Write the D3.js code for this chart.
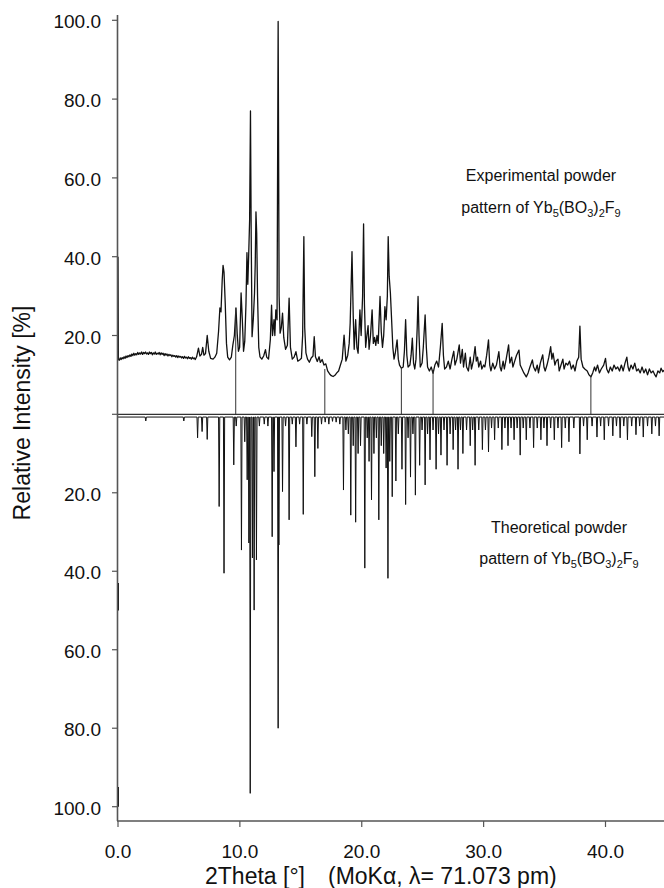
<!DOCTYPE html>
<html>
<head>
<meta charset="utf-8">
<title>Powder pattern of Yb5(BO3)2F9</title>
<script src="https://d3js.org/d3.v7.min.js"></script>
<style>
  body { margin: 0; background: #fff; }
  text { font-family: 'Liberation Sans', Arial, sans-serif; fill: #111; }
</style>
</head>
<body>
<div id="chart"></div>
<script>

  // experimental pattern, [2theta (deg), relative intensity (%)]
  var expPattern = [
    [0, 40], [0.03, 14.0], [0.1, 13.7], [0.18, 14.3], [0.26, 13.9], [0.34, 14.4], [0.42, 14.1], [0.5, 14.6], [0.58, 14.2],
    [0.66, 14.8], [0.74, 14.4], [0.82, 14.9], [0.9, 14.6], [0.98, 15.1], [1.06, 14.7], [1.14, 15.3], [1.22, 14.9], [1.3, 15.5],
    [1.38, 15.0], [1.46, 15.4], [1.54, 15.1], [1.62, 15.7], [1.7, 15.2], [1.78, 15.6], [1.86, 15.3], [1.94, 15.8], [2.02, 15.2],
    [2.1, 15.7], [2.18, 15.4], [2.26, 15.8], [2.34, 15.3], [2.42, 15.6], [2.5, 15.2], [2.58, 15.8], [2.66, 15.4], [2.74, 15.7],
    [2.82, 15.1], [2.9, 15.6], [2.98, 15.3], [3.06, 15.8], [3.14, 15.2], [3.22, 15.5], [3.3, 15.3], [3.38, 15.7], [3.46, 15.1],
    [3.54, 15.6], [3.62, 15.2], [3.7, 15.5], [3.78, 14.9], [3.86, 15.4], [3.94, 15.0], [4.02, 15.3], [4.1, 14.8], [4.18, 15.2],
    [4.26, 14.9], [4.34, 15.1], [4.42, 14.6], [4.5, 15.0], [4.58, 14.7], [4.66, 14.9], [4.74, 14.5], [4.82, 14.9], [4.9, 14.4],
    [4.98, 14.8], [5.06, 14.5], [5.14, 14.7], [5.22, 14.3], [5.3, 14.6], [5.38, 14.2], [5.46, 14.7], [5.54, 14.3], [5.62, 14.5],
    [5.7, 14.1], [5.78, 14.6], [5.86, 14.2], [5.94, 14.4], [6.02, 14.0], [6.1, 14.5], [6.18, 14.1], [6.26, 14.3], [6.34, 13.9],
    [6.45, 14.6], [6.6, 16.8], [6.72, 14.8], [6.85, 15.2], [6.95, 17.0], [7.05, 15.0], [7.18, 15.4], [7.32, 20.0],
    [7.45, 16.0], [7.6, 14.2], [7.8, 14.0], [7.95, 14.5], [8.1, 15.5], [8.25, 21.0], [8.36, 27.0], [8.45, 26.0], [8.55, 34.0],
    [8.62, 37.8], [8.7, 36.0], [8.8, 28.0], [8.9, 18.0], [9.0, 14.5], [9.15, 13.8], [9.3, 14.5], [9.42, 17.5], [9.55, 20.0],
    [9.68, 27.0], [9.78, 20.5], [9.88, 16.0], [9.98, 17.0], [10.1, 30.8], [10.2, 24.0], [10.3, 16.0], [10.4, 18.5], [10.5, 28.0],
    [10.58, 41.0], [10.65, 33.0], [10.72, 40.0], [10.8, 49.3], [10.87, 77.0], [10.93, 45.0], [11.0, 19.7], [11.1, 24.0],
    [11.2, 30.7], [11.26, 38.0], [11.32, 51.4], [11.38, 46.0], [11.45, 30.0], [11.55, 17.0], [11.65, 14.6], [11.8, 14.0],
    [11.95, 14.8], [12.1, 16.4], [12.2, 14.5], [12.35, 14.0], [12.5, 19.0], [12.6, 27.7], [12.68, 20.0], [12.8, 24.0],
    [12.87, 20.0], [12.95, 26.5], [13.05, 24.0], [13.14, 99.7], [13.22, 30.0], [13.3, 20.6], [13.4, 22.0], [13.5, 25.7],
    [13.6, 19.5], [13.75, 16.5], [13.9, 17.5], [14.04, 29.5], [14.15, 17.0], [14.3, 14.0], [14.45, 14.5], [14.6, 15.9],
    [14.75, 13.5], [14.9, 13.8], [15.05, 14.2], [15.15, 20.0], [15.25, 45.1], [15.32, 22.0], [15.42, 15.6], [15.55, 14.0],
    [15.7, 13.2], [15.85, 14.3], [16.0, 14.8], [16.1, 19.7], [16.2, 14.6], [16.35, 13.4], [16.5, 14.6], [16.6, 13.2],
    [16.75, 13.9], [16.9, 12.5], [17.05, 12.8], [17.2, 11.0], [17.35, 10.3], [17.5, 9.8], [17.65, 9.6], [17.8, 9.9],
    [17.95, 10.5], [18.1, 11.0], [18.25, 12.5], [18.4, 14.0], [18.55, 20.1], [18.7, 13.5], [18.85, 15.0], [18.97, 18.0],
    [19.05, 23.1], [19.2, 41.3], [19.3, 25.0], [19.38, 16.5], [19.5, 24.0], [19.6, 17.0], [19.7, 15.5], [19.85, 26.5],
    [19.95, 20.0], [20.07, 30.0], [20.15, 48.3], [20.22, 28.0], [20.32, 17.0], [20.4, 19.5], [20.52, 22.5], [20.6, 16.5],
    [20.72, 20.0], [20.85, 26.5], [20.95, 18.0], [21.05, 19.5], [21.15, 17.5], [21.25, 20.0], [21.35, 18.0], [21.5, 29.9],
    [21.6, 21.0], [21.7, 17.0], [21.8, 20.0], [21.9, 27.3], [22.0, 24.0], [22.1, 30.0], [22.17, 45.1], [22.25, 35.0],
    [22.35, 30.8], [22.45, 24.0], [22.55, 17.0], [22.65, 14.0], [22.75, 15.5], [22.9, 18.9], [23.0, 14.0], [23.1, 12.5],
    [23.25, 11.7], [23.4, 12.0], [23.5, 16.0], [23.6, 24.0], [23.7, 15.0], [23.8, 12.0], [23.95, 12.5], [24.05, 15.0],
    [24.15, 19.3], [24.25, 13.0], [24.35, 11.5], [24.45, 14.0], [24.55, 22.0], [24.62, 29.9], [24.7, 20.0], [24.8, 12.0],
    [24.95, 13.0], [25.05, 17.0], [25.2, 25.2], [25.3, 17.0], [25.4, 12.0], [25.55, 11.0], [25.7, 12.0], [25.85, 10.4],
    [26.0, 12.5], [26.15, 13.5], [26.3, 12.0], [26.45, 17.0], [26.6, 23.1], [26.7, 15.0], [26.8, 11.5], [26.95, 12.0],
    [27.1, 13.5], [27.25, 11.5], [27.4, 14.0], [27.55, 16.0], [27.65, 12.5], [27.8, 14.0], [28.0, 17.6], [28.1, 13.0],
    [28.25, 16.5], [28.35, 12.0], [28.5, 15.5], [28.6, 12.0], [28.75, 11.0], [28.9, 14.5], [29.0, 11.5], [29.15, 13.5],
    [29.3, 17.2], [29.4, 13.5], [29.5, 14.5], [29.6, 12.0], [29.75, 13.5], [29.85, 11.5], [30.0, 12.5], [30.1, 12.0],
    [30.25, 15.0], [30.4, 18.9], [30.5, 12.5], [30.6, 11.0], [30.75, 13.0], [30.9, 11.5], [31.05, 12.5], [31.25, 15.9],
    [31.35, 12.0], [31.45, 11.0], [31.6, 13.5], [31.7, 11.5], [31.85, 14.0], [32.05, 17.6], [32.15, 13.0], [32.3, 14.5],
    [32.4, 12.0], [32.55, 13.5], [32.7, 15.0], [32.9, 16.3], [33.0, 12.5], [33.15, 11.5], [33.3, 10.5], [33.5, 9.5],
    [33.65, 10.5], [33.8, 12.0], [34.0, 13.8], [34.1, 12.0], [34.25, 11.0], [34.4, 12.5], [34.5, 10.5], [34.65, 13.0],
    [34.85, 15.1], [34.95, 12.0], [35.05, 11.0], [35.2, 12.5], [35.35, 14.5], [35.5, 17.2], [35.6, 14.0], [35.7, 15.5],
    [35.85, 12.5], [35.95, 13.5], [36.1, 14.0], [36.2, 11.0], [36.35, 12.5], [36.5, 14.0], [36.6, 11.5], [36.75, 13.0],
    [36.9, 12.5], [37.05, 13.5], [37.2, 11.5], [37.35, 12.5], [37.5, 11.0], [37.65, 13.5], [37.8, 14.5], [37.9, 22.4],
    [38.0, 14.0], [38.15, 12.0], [38.3, 11.5], [38.5, 11.0], [38.65, 10.0], [38.8, 9.5], [38.95, 10.5], [39.1, 12.0],
    [39.2, 11.0], [39.35, 12.5], [39.5, 10.5], [39.65, 11.5], [39.85, 12.5], [40.0, 14.2], [40.1, 11.5], [40.25, 10.5],
    [40.4, 12.0], [40.55, 11.0], [40.7, 12.5], [40.85, 11.5], [41.0, 12.0], [41.15, 11.0], [41.3, 12.5], [41.45, 11.0],
    [41.6, 13.0], [41.75, 14.5], [41.85, 12.0], [41.95, 11.0], [42.1, 12.5], [42.25, 11.5], [42.4, 13.0], [42.55, 11.0],
    [42.7, 11.5], [42.85, 10.5], [43.0, 12.0], [43.15, 10.5], [43.3, 11.5], [43.45, 10.0], [43.6, 11.5], [43.75, 10.5],
    [43.9, 11.0], [44.05, 10.0], [44.15, 9.5], [44.3, 11.0], [44.45, 10.5], [44.56, 11.7], [44.7, 10.8], [44.8, 11.2]
  ];

  // calculated reflections, [2theta (deg), relative intensity (%)]
  var theoPeaks = [
    [2.28, 1.7], [5.4, 1.7], [6.53, 6.0], [6.9, 4.4], [7.32, 6.4], [8.3, 23.5], [8.7, 40.5], [9.5, 12.9], [9.7, 3.0],
    [10.13, 34.6], [10.4, 7.0], [10.6, 16.7], [10.74, 32.8], [10.85, 96.6], [11.03, 36.6], [11.17, 49.9], [11.36, 37.1],
    [11.6, 3.0], [12.0, 2.5], [12.3, 3.0], [12.65, 31.2], [12.8, 14.6], [13.14, 80.0], [13.2, 33.3], [13.5, 19.7],
    [13.75, 3.0], [14.04, 26.9], [14.3, 2.5], [14.6, 8.3], [14.9, 2.5], [15.2, 25.5], [15.5, 2.5], [15.9, 5.7], [16.15, 15.9],
    [16.4, 8.7], [16.7, 2.5], [17.0, 2.0], [17.3, 2.5], [17.6, 1.8], [17.9, 2.0], [18.2, 2.5], [18.5, 19.3], [18.7, 4.0],
    [18.9, 5.0], [19.1, 25.7], [19.3, 8.0], [19.5, 27.5], [19.7, 10.0], [19.9, 8.0], [20.25, 39.2], [20.45, 6.0], [20.6, 12.0],
    [20.8, 21.8], [21.0, 10.0], [21.2, 6.0], [21.4, 26.9], [21.6, 8.0], [21.8, 10.0], [22.0, 13.7], [22.15, 41.8], [22.3, 12.0],
    [22.5, 21.0], [22.8, 17.0], [23.0, 5.0], [23.3, 14.0], [23.6, 23.0], [23.8, 6.0], [24.0, 16.0], [24.2, 5.0], [24.4, 20.6],
    [24.75, 13.0], [24.95, 4.0], [25.2, 18.0], [25.4, 5.0], [25.6, 11.6], [25.85, 4.0], [26.1, 14.0], [26.3, 5.0],
    [26.5, 10.4], [26.75, 4.0], [27.0, 13.0], [27.25, 5.0], [27.5, 9.0], [27.7, 4.0], [27.9, 14.0], [28.1, 4.0], [28.3, 10.0],
    [28.6, 4.0], [28.9, 8.0], [29.1, 4.0], [29.3, 13.0], [29.6, 4.0], [29.9, 9.0], [30.15, 4.0], [30.4, 9.6], [30.65, 3.5],
    [30.9, 6.5], [31.2, 3.5], [31.5, 9.0], [31.75, 3.5], [32.0, 8.0], [32.25, 3.5], [32.5, 6.5], [32.75, 3.5], [33.0, 10.4],
    [33.25, 3.5], [33.5, 6.5], [33.8, 3.5], [34.1, 8.5], [34.4, 3.5], [34.7, 6.5], [34.95, 3.5], [35.2, 8.0], [35.5, 3.5],
    [35.8, 6.5], [36.1, 3.5], [36.4, 8.5], [36.7, 3.5], [37.0, 7.0], [37.4, 3.5], [37.9, 10.1], [38.2, 3.0], [38.5, 6.5],
    [38.9, 3.0], [39.3, 5.8], [39.6, 3.0], [39.9, 6.5], [40.25, 3.0], [40.6, 5.5], [40.9, 3.0], [41.2, 6.0], [41.5, 3.0],
    [41.8, 6.5], [42.15, 3.0], [42.5, 5.2], [42.8, 3.0], [43.1, 5.8], [43.45, 3.0], [43.8, 5.0], [44.1, 3.0], [44.4, 5.5]
  ];
  var theoBase = 0.7;
  // short dark pieces of the calculated trace lying on the axis at 2theta = 0
  var theoEdge = [[43, 50], [95, 100]];

  // thin marker lines in the upper panel
  var markerPos = [9.66, 16.97, 23.25, 25.85, 38.8];
  var markerTop = [27.0, 11.5, 11.7, 11.0, 9.8];

  var xTicks = [0, 10, 20, 30, 40];
  var yTicks = [20, 40, 60, 80, 100];

  var W = 664, H = 888;

  var svg = d3.select("#chart")
    .append("svg")
    .attr("width", W)
    .attr("height", H);

  // scales
  var x = d3.scaleLinear().domain([0, 44.8]).range([118, 664]);
  var yUp = d3.scaleLinear().domain([0, 100]).range([414.3, 20.3]);
  var yDown = d3.scaleLinear().domain([0, 100]).range([414.3, 806.7]);
  var axisY = 821;

  var fmt = d3.format(".1f");

  // experimental curve
  var lineUp = d3.line()
    .x(function (d) { return x(d[0]); })
    .y(function (d) { return yUp(d[1]); });

  svg.append("path")
    .datum(expPattern)
    .attr("d", lineUp)
    .attr("fill", "none")
    .attr("stroke", "#111")
    .attr("stroke-width", 1.3)
    .attr("stroke-linejoin", "round");

  // marker lines
  svg.selectAll(".marker")
    .data(markerPos)
    .enter().append("line")
    .attr("class", "marker")
    .attr("x1", function (d) { return x(d); })
    .attr("x2", function (d) { return x(d); })
    .attr("y1", yUp(0))
    .attr("y2", function (d, i) { return yUp(markerTop[i]); })
    .attr("stroke", "#333")
    .attr("stroke-width", 1);

  // theoretical pattern drawn downwards, each reflection as a narrow spike
  var theoPts = [[0, theoBase]];
  theoPeaks.forEach(function (p) {
    theoPts.push([p[0] - 0.05, theoBase]);
    theoPts.push([p[0], p[1]]);
    theoPts.push([p[0] + 0.05, theoBase]);
  });
  theoPts.push([44.8, theoBase]);

  var lineDown = d3.line()
    .x(function (d) { return x(d[0]); })
    .y(function (d) { return yDown(d[1]); });

  svg.append("path")
    .datum(theoPts)
    .attr("d", lineDown)
    .attr("fill", "none")
    .attr("stroke", "#111")
    .attr("stroke-width", 1);

  svg.selectAll(".edge")
    .data(theoEdge)
    .enter().append("line")
    .attr("x1", x(0) + 0.3).attr("x2", x(0) + 0.3)
    .attr("y1", function (d) { return yDown(d[0]); })
    .attr("y2", function (d) { return yDown(d[1]); })
    .attr("stroke", "#111").attr("stroke-width", 1.4);

  // zero line between the two panels
  svg.append("line")
    .attr("x1", x(0)).attr("x2", W)
    .attr("y1", yUp(0)).attr("y2", yUp(0))
    .attr("stroke", "#333").attr("stroke-width", 1.2);

  // y axis (shared), ticks for both panels
  var yAxisG = svg.append("g");
  yAxisG.append("line")
    .attr("x1", x(0) - 0.5).attr("x2", x(0) - 0.5)
    .attr("y1", 15).attr("y2", axisY)
    .attr("stroke", "#555").attr("stroke-width", 1.6);

  var upTicks = [0].concat(yTicks);
  yAxisG.selectAll(".tu")
    .data(upTicks)
    .enter().append("line")
    .attr("x1", x(0) - 6).attr("x2", x(0))
    .attr("y1", function (d) { return yUp(d); })
    .attr("y2", function (d) { return yUp(d); })
    .attr("stroke", "#555").attr("stroke-width", 1.2);
  yAxisG.selectAll(".td")
    .data(yTicks)
    .enter().append("line")
    .attr("x1", x(0) - 6).attr("x2", x(0))
    .attr("y1", function (d) { return yDown(d); })
    .attr("y2", function (d) { return yDown(d); })
    .attr("stroke", "#555").attr("stroke-width", 1.2);

  yAxisG.selectAll(".lu")
    .data(yTicks)
    .enter().append("text")
    .attr("x", 101)
    .attr("y", function (d) { return yUp(d) + 8; })
    .attr("text-anchor", "end")
    .style("font-size", "19px")
    .text(fmt);
  yAxisG.selectAll(".ld")
    .data(yTicks)
    .enter().append("text")
    .attr("x", 101)
    .attr("y", function (d) { return yDown(d) + 8; })
    .attr("text-anchor", "end")
    .style("font-size", "19px")
    .text(fmt);

  // x axis
  var xAxisG = svg.append("g");
  xAxisG.append("line")
    .attr("x1", x(0) - 1).attr("x2", W)
    .attr("y1", axisY).attr("y2", axisY)
    .attr("stroke", "#555").attr("stroke-width", 1.6);
  xAxisG.selectAll(".tx")
    .data(xTicks)
    .enter().append("line")
    .attr("x1", function (d) { return x(d); })
    .attr("x2", function (d) { return x(d); })
    .attr("y1", axisY).attr("y2", axisY + 6)
    .attr("stroke", "#555").attr("stroke-width", 1.2);
  xAxisG.selectAll(".lx")
    .data(xTicks)
    .enter().append("text")
    .attr("x", function (d) { return x(d); })
    .attr("y", axisY + 37)
    .attr("text-anchor", "middle")
    .style("font-size", "19px")
    .text(fmt);

  // axis titles
  svg.append("text")
    .attr("x", 205)
    .attr("y", 884)
    .style("font-size", "23px")
    .text("2Theta [°]");
  svg.append("text")
    .attr("x", 328)
    .attr("y", 884)
    .style("font-size", "23px")
    .text("(MoK\u03B1, \u03BB= 71.073 pm)");

  svg.append("text")
    .attr("transform", "translate(30,413) rotate(-90)")
    .attr("text-anchor", "middle")
    .style("font-size", "23px")
    .text("Relative Intensity [%]");

  // panel annotations
  function formula(g, cx, y) {
    var t = g.append("text")
      .attr("x", cx).attr("y", y)
      .attr("text-anchor", "middle")
      .style("font-size", "16px");
    t.append("tspan").text("pattern of Yb");
    t.append("tspan").attr("dy", 4).style("font-size", "11px").text("5");
    t.append("tspan").attr("dy", -4).text("(BO");
    t.append("tspan").attr("dy", 4).style("font-size", "11px").text("3");
    t.append("tspan").attr("dy", -4).text(")");
    t.append("tspan").attr("dy", 4).style("font-size", "11px").text("2");
    t.append("tspan").attr("dy", -4).text("F");
    t.append("tspan").attr("dy", 4).style("font-size", "11px").text("9");
  }

  svg.append("text")
    .attr("x", 541).attr("y", 181)
    .attr("text-anchor", "middle")
    .style("font-size", "16px")
    .text("Experimental powder");
  formula(svg, 541, 213);

  svg.append("text")
    .attr("x", 559).attr("y", 533)
    .attr("text-anchor", "middle")
    .style("font-size", "16px")
    .text("Theoretical powder");
  formula(svg, 559, 564);

</script>
</body>
</html>
